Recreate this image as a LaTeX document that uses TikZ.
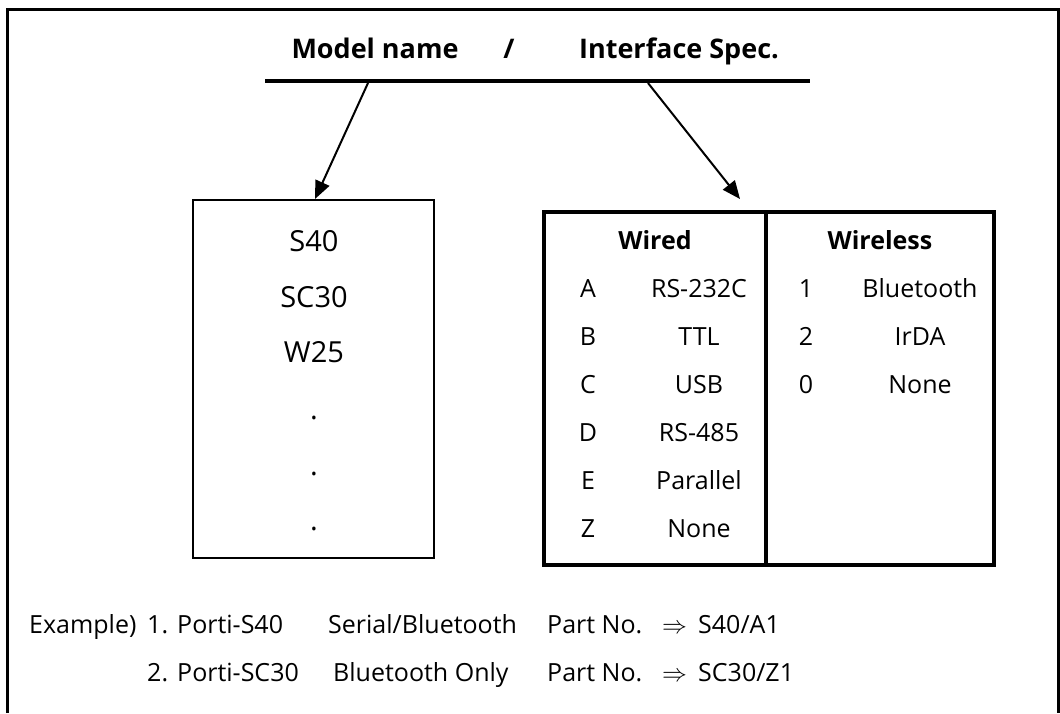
\documentclass[tikz,border=0pt]{standalone}
\usepackage{fontspec}
\setmainfont{Open Sans}
\usetikzlibrary{arrows.meta}
\begin{document}
\begin{tikzpicture}[x=1pt,y=-1pt,
  frameline/.style={line width=3pt},
  barline/.style={line width=4.5pt},
  ptr/.style={line width=2pt,-{Triangle[length=18pt,width=15pt]}},
  thinbox/.style={draw,line width=1.5pt},
  thickbox/.style={draw,line width=3.5pt},
  ttl/.style={inner sep=0pt,anchor=base,font=\fontsize{27}{32}\selectfont\bfseries},
  mname/.style={inner sep=0pt,anchor=base,font=\fontsize{29}{34}\selectfont},
  cell/.style={inner sep=0pt,anchor=base,font=\fontsize{25}{30}\selectfont},
  hcell/.style={inner sep=0pt,anchor=base,font=\fontsize{25}{30}\selectfont\bfseries},
  ex/.style={inner sep=0pt,anchor=base west,font=\fontsize{25}{30}\selectfont}]
\useasboundingbox (0,0) rectangle (1060,713);
% outer frame (open at the bottom)
\coordinate (fbl) at (7,713);
\coordinate (ftl) at (7,9);
\coordinate (ftr) at (1058,9);
\coordinate (fbr) at (1058,713);
\draw[frameline] (fbl) -- (ftl) -- (ftr) -- (fbr);
% title
\node[ttl] (tmodel) at (375,58) {Model name};
\node[ttl] (tslash) at (509,58) {/};
\node[ttl] (tiface) at (679,58) {Interface Spec.};
\coordinate (barL) at (265,81);
\coordinate (barR) at (810,81);
\draw[barline] (barL) -- (barR);
% model name box
\node[thinbox,minimum width=241pt,minimum height=358pt,inner sep=0pt] (modelbox) at (313.5,379) {};
\node[mname] (m1) at (314,251) {S40};
\node[mname] (m2) at (314,307) {SC30};
\node[mname] (m3) at (314,362) {W25};
\node[mname] (d1) at (314,419) {.};
\node[mname] (d2) at (314,475) {.};
\node[mname] (d3) at (314,530) {.};
% interface table
\node[thickbox,minimum width=450pt,minimum height=353pt,inner sep=0pt] (tbl) at (769,388.5) {};
\coordinate (divT) at (766,212);
\coordinate (divB) at (766,565);
\draw[line width=3.5pt] (divT) -- (divB);
\node[hcell] (hw) at (655,249) {Wired};
\node[hcell] (hwl) at (880,249) {Wireless};
\node[cell] (wa) at (588,297) {A};
\node[cell] (wan) at (699,297) {RS-232C};
\node[cell] (wb) at (588,345) {B};
\node[cell] (wbn) at (699,345) {TTL};
\node[cell] (wc) at (588,393) {C};
\node[cell] (wcn) at (699,393) {USB};
\node[cell] (wd) at (588,441) {D};
\node[cell] (wdn) at (699,441) {RS-485};
\node[cell] (we) at (588,489) {E};
\node[cell] (wen) at (699,489) {Parallel};
\node[cell] (wz) at (588,537) {Z};
\node[cell] (wzn) at (699,537) {None};
\node[cell] (l1) at (806,297) {1};
\node[cell] (l1n) at (920,297) {Bluetooth};
\node[cell] (l2) at (806,345) {2};
\node[cell] (l2n) at (920,345) {IrDA};
\node[cell] (l0) at (806,393) {0};
\node[cell] (l0n) at (920,393) {None};
% arrows
\coordinate (a1s) at (368,83);
\coordinate (a1e) at (315,199);
\coordinate (a2s) at (648,83);
\coordinate (a2e) at (740,199);
\draw[ptr] (a1s) -- (a1e);
\draw[ptr] (a2s) -- (a2e);
% examples
\node[ex] (e0) at (29,633) {Example)};
\node[ex] (e1) at (147,633) {1.};
\node[ex] (e2) at (177,633) {Porti-S40};
\node[ex] (e3) at (328,633) {Serial/Bluetooth};
\node[ex] (e4) at (547,633) {Part No.};
\node[ex] (e5) at (662,633) {$\Rightarrow$};
\node[ex] (e6) at (698,633) {S40/A1};
\node[ex] (f1) at (147,681) {2.};
\node[ex] (f2) at (177,681) {Porti-SC30};
\node[ex] (f3) at (333,681) {Bluetooth Only};
\node[ex] (f4) at (547,681) {Part No.};
\node[ex] (f5) at (662,681) {$\Rightarrow$};
\node[ex] (f6) at (698,681) {SC30/Z1};
\end{tikzpicture}
\end{document}
